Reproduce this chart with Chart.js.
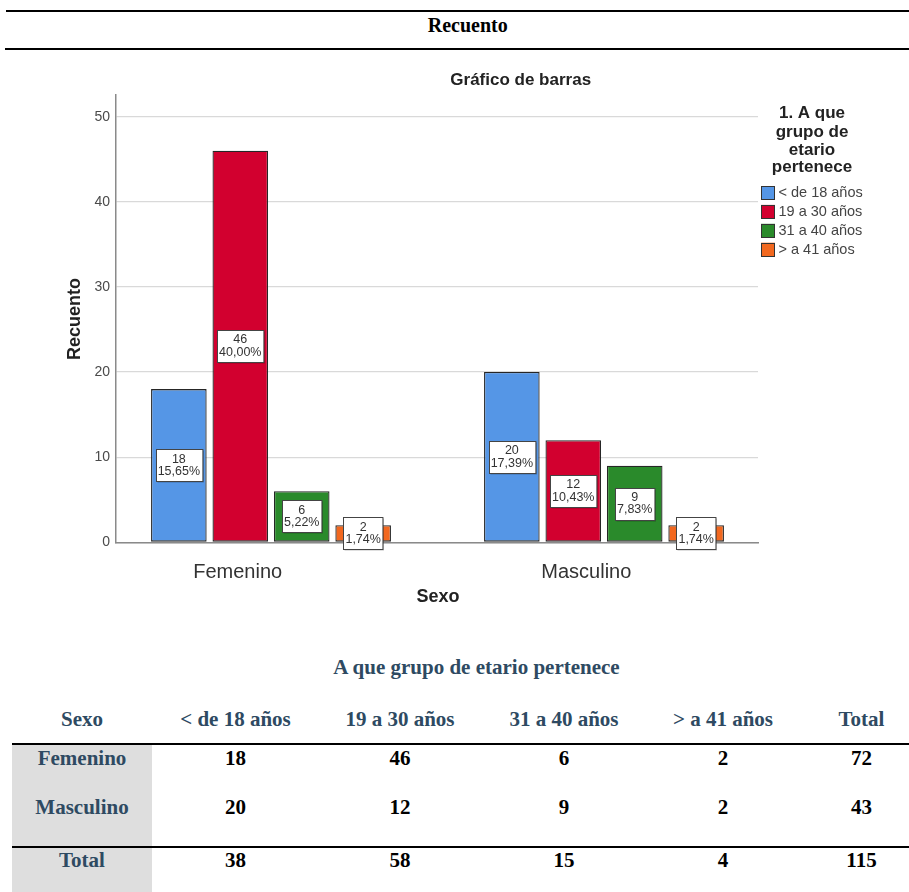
<!DOCTYPE html>
<html>
<head>
<meta charset="utf-8">
<script src="https://cdn.jsdelivr.net/npm/chart.js@4/dist/chart.umd.min.js"></script>
<style>
  html, body { margin: 0; padding: 0; background: #fff; }
  body { width: 909px; height: 892px; position: relative; overflow: hidden;
         font-family: "Liberation Serif", "Times New Roman", serif; }
  .rule { position: absolute; background: #000; height: 2px; }
  .t { position: absolute; white-space: nowrap; font-weight: bold; text-align: center; width: 500px; }
  .shade { position: absolute; background: #dedede; }
  #chartBox { position: absolute; left: 0; top: 55px; width: 909px; height: 560px; }
</style>
</head>
<body>
<div class="shade" style="left:12px; top:745px; width:140px; height:147px;"></div>
<div class="rule" style="top:10px; left:6px; right:0;"></div>
<div class="rule" style="top:48px; left:5px; right:0;"></div>
<div class="rule" style="top:743px; left:12px; right:0;"></div>
<div class="rule" style="top:846px; left:12px; right:0;"></div>
<div id="texts"></div>
<div id="chartBox"><canvas id="c" width="909" height="560" style="width:909px;height:560px;"></canvas></div>

<script>
// ---- data ----
const sexes = ['Femenino', 'Masculino'];
const ageGroups = ['< de 18 años', '19 a 30 años', '31 a 40 años', '> a 41 años'];
const countsFemenino = [18, 46, 6, 2];
const countsMasculino = [20, 12, 9, 2];
const yTicks = [0, 10, 20, 30, 40, 50];
const legendTitleLines = ['1. A que', 'grupo de', 'etario', 'pertenece'];

const counts = [countsFemenino, countsMasculino];
const grandTotal = counts.flat().reduce((a, b) => a + b, 0);
const pctText = v => (v / grandTotal * 100).toFixed(2).replace('.', ',') + '%';

// ---- page text: header and contingency table ----
const slate = '#2e4a62';
const textLayer = document.getElementById('texts');
function put(text, cx, baseline, color, size) {
  const d = document.createElement('div');
  d.className = 't';
  d.textContent = text;
  d.style.fontSize = size + 'px';
  d.style.lineHeight = size + 'px';
  d.style.left = (cx - 250) + 'px';
  d.style.top = (baseline - 0.8375 * size) + 'px';
  d.style.color = color;
  textLayer.appendChild(d);
}
put('Recuento', 467.7, 31.7, '#000', 20);
put('A que grupo de etario pertenece', 476.5, 675, slate, 21);

const colX = [82, 235.5, 400, 564, 723, 861.5];
const rowBase = [766, 815, 867.5];
put('Sexo', colX[0], 726.5, slate, 21);
ageGroups.forEach((g, i) => put(g, colX[i + 1], 726.5, slate, 21));
put('Total', colX[5], 726.5, slate, 21);

counts.forEach((row, r) => {
  put(sexes[r], colX[0], rowBase[r], slate, 21);
  row.forEach((v, i) => put(String(v), colX[i + 1], rowBase[r], '#000', 21));
  put(String(row.reduce((a, b) => a + b, 0)), colX[5], rowBase[r], '#000', 21);
});
put('Total', colX[0], rowBase[2], slate, 21);
ageGroups.forEach((g, i) => put(String(counts.reduce((a, row) => a + row[i], 0)), colX[i + 1], rowBase[2], '#000', 21));
put(String(grandTotal), colX[5], rowBase[2], '#000', 21);

// ---- bar chart ----
const sans = '"Liberation Sans", Arial, sans-serif';
const barColors = ['#5596e6', '#d2002f', '#2a8a2b', '#f2681f'];

const datasets = ageGroups.map((g, i) => ({
  label: g,
  data: sexes.map((s, j) => ({ x: j, y: counts[j][i] })),
  backgroundColor: barColors[i],
  borderColor: '#262626',
  borderWidth: 1.3,
  borderSkipped: false,
  categoryPercentage: 0.738,
  barPercentage: 0.905
}));

// white count / percent boxes in the middle of each bar
const valueBoxes = {
  id: 'valueBoxes',
  afterDatasetsDraw(chart) {
    const ctx = chart.ctx;
    ctx.save();
    ctx.font = '12.5px ' + sans;
    chart.data.datasets.forEach((ds, di) => {
      chart.getDatasetMeta(di).data.forEach((el, j) => {
        const v = ds.data[j].y;
        const lines = [String(v), pctText(v)];
        const w = Math.max(...lines.map(l => ctx.measureText(l).width)) + 4;
        const h = 32;
        const cx = el.x, cy = (el.y + el.base) / 2;
        const x0 = Math.round(cx - w / 2) + 0.5, y0 = Math.round(cy - h / 2) + 0.5;
        ctx.fillStyle = 'rgba(0,0,0,0.25)';
        ctx.fillRect(x0 + 1, y0 + 1, w, h);
        ctx.fillStyle = '#fff';
        ctx.fillRect(x0, y0, w, h);
        ctx.strokeStyle = '#444';
        ctx.lineWidth = 1;
        ctx.strokeRect(x0, y0, w, h);
        ctx.fillStyle = '#333';
        ctx.textAlign = 'center';
        ctx.textBaseline = 'middle';
        ctx.fillText(lines[0], cx, cy - 6.3);
        ctx.fillText(lines[1], cx, cy + 6.3);
      });
    });
    ctx.restore();
  }
};

// chart title, axis titles and the legend block on the right
const decorations = {
  id: 'decorations',
  afterDraw(chart) {
    const ctx = chart.ctx;
    ctx.save();
    ctx.fillStyle = '#222';
    ctx.textAlign = 'center';
    ctx.textBaseline = 'middle';
    ctx.font = 'bold 17px ' + sans;
    ctx.fillText('Gráfico de barras', 520.7, 25.7);
    ctx.font = 'bold 18px ' + sans;
    ctx.fillText('Sexo', 438, 542);
    ctx.save();
    ctx.translate(75, 264);
    ctx.rotate(-Math.PI / 2);
    ctx.fillText('Recuento', 0, 0);
    ctx.restore();

    // legend
    ctx.font = 'bold 17px ' + sans;
    ctx.textBaseline = 'alphabetic';
    const titleBase = [63.3, 81.7, 100, 116.7];
    legendTitleLines.forEach((l, i) => ctx.fillText(l, 812, titleBase[i]));
    ctx.font = '14.5px ' + sans;
    ctx.textAlign = 'left';
    ctx.textBaseline = 'middle';
    chart.data.datasets.forEach((ds, i) => {
      const cy = 138 + i * 18.9;
      ctx.fillStyle = ds.backgroundColor;
      ctx.fillRect(761, cy - 7, 14, 14);
      ctx.strokeStyle = '#333';
      ctx.lineWidth = 1;
      ctx.strokeRect(761.5, Math.round(cy - 7) + 0.5, 13, 13);
      ctx.fillStyle = '#444';
      ctx.fillText(ds.label, 778.5, cy);
    });
    ctx.restore();
  }
};

new Chart(document.getElementById('c'), {
  type: 'bar',
  data: { datasets },
  options: {
    responsive: false,
    animation: false,
    layout: { padding: { top: 40, left: 0, right: 151, bottom: 22.7 } },
    plugins: { legend: { display: false }, tooltip: { enabled: false }, title: { display: false } },
    scales: {
      x: {
        type: 'linear',
        offset: false,
        bounds: 'data',
        min: -0.4655,
        max: 1.4625,
        afterBuildTicks: s => { s.ticks = [{ value: -0.1 }, { value: 0.947 }]; },
        afterFit: s => { s.height = 50; },
        grid: { display: false, drawTicks: false, offset: false },
        border: { display: true, color: '#8a8a8a', width: 1.5 },
        ticks: {
          padding: 18,
          color: '#333',
          font: { family: sans, size: 20 },
          callback: (v, i) => sexes[i]
        }
      },
      y: {
        min: 0,
        max: 52.55,
        afterBuildTicks: s => { s.ticks = yTicks.map(v => ({ value: v })); },
        afterFit: s => { s.width = 116; },
        grid: { color: '#d9d9d9', lineWidth: 1.3, drawTicks: false },
        border: { display: true, color: '#8a8a8a', width: 1.5 },
        ticks: { padding: 6, color: '#4a4a4a', font: { family: sans, size: 14 } }
      }
    }
  },
  plugins: [valueBoxes, decorations]
});
</script>
</body>
</html>
